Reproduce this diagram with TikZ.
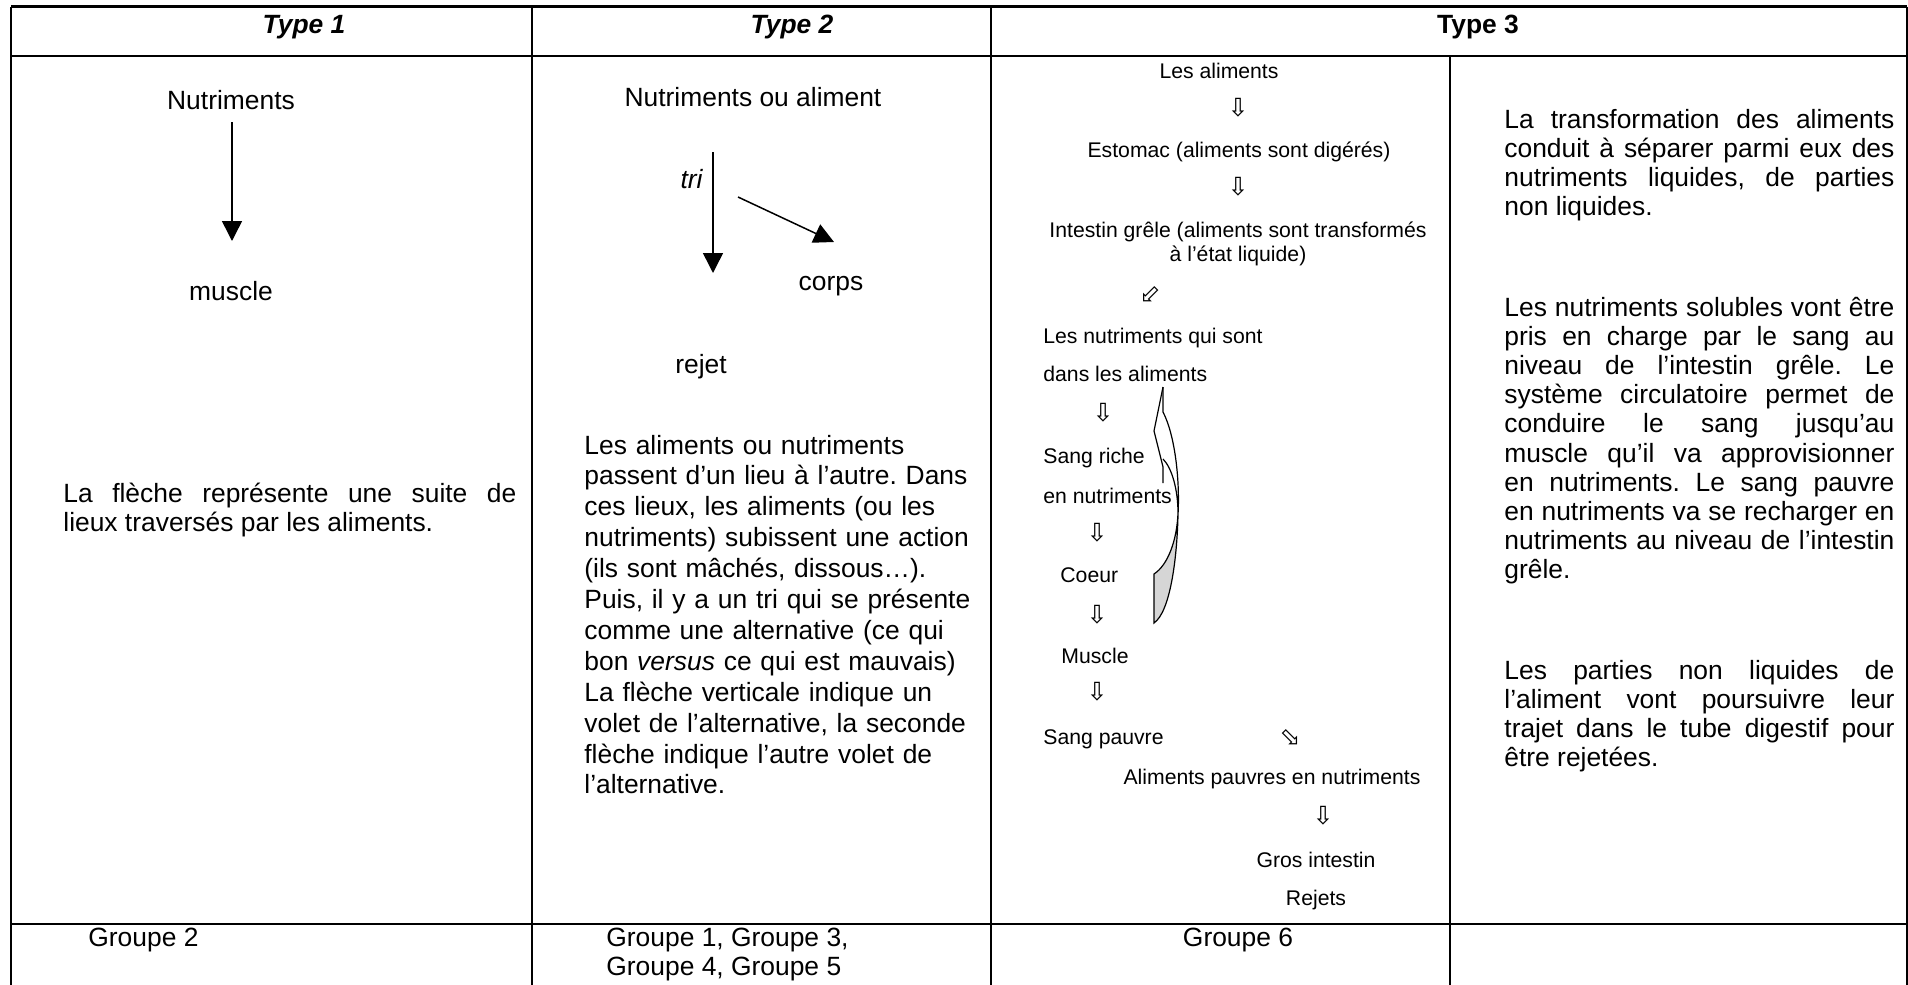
\documentclass[tikz,border=0pt]{standalone}
\usepackage{fontspec}
\setmainfont{Liberation Sans}
\newfontfamily\symfont{DejaVu Sans}
\usetikzlibrary{arrows.meta}
\frenchspacing

\newcommand{\bigtxt}{\fontsize{13.2}{14.6}\selectfont}
\newcommand{\smalltxt}{\fontsize{10.6}{12}\selectfont}

\begin{document}
\begin{tikzpicture}[x=0.5pt, y=-0.5pt,
    every node/.style={inner sep=0pt},
    body/.style={font=\bigtxt},
    small/.style={font=\smalltxt},
    head/.style={font=\bigtxt\bfseries\itshape},
    para/.style={font=\bigtxt, text width=#1, align=justify, anchor=base west},
    wa/.style={font=\symfont\fontsize{12.5}{12.5}\selectfont},
    bigarrow/.style={line width=0.75pt, -{Triangle[width=10pt,length=10pt]}},
    frame/.style={line width=1.2pt},
    thin/.style={line width=0.6pt}]

  \useasboundingbox (0,0) rectangle (1908,985);

  % table
  \draw[frame] (11,6.5) -- (1907,6.5);
  \draw[frame] (11,56) -- (1907,56);
  \draw[frame] (11,924) -- (1907,924);
  \draw[frame] (11,6.5) -- (11,985);
  \draw[frame] (1907,6.5) -- (1907,985);
  \draw[frame] (532,6.5) -- (532,985);
  \draw[frame] (991,6.5) -- (991,985);
  \draw[thin] (1450,56) -- (1450,985);

  \node[head] (type1) at (304,27) {Type 1};
  \node[head] (type2) at (792,27) {Type 2};
  \node[head, font=\bigtxt\bfseries] (type3) at (1478,27) {Type 3};

  % type 1
  \node[body] (nutr1) at (231,100) {Nutriments};
  \node[body] (musc1) at (231,291) {muscle};
  \coordinate (a1) at (232,122);
  \coordinate (b1) at (232,241);
  \draw[bigarrow] (a1) -- (b1);
  \node[para=226.5pt] (txt1) at (63,502)
    {La flèche représente une suite de\linebreak lieux traversés par les aliments.};

  % type 2
  \node[body] (nutr2) at (753,97) {Nutriments ou aliment};
  \node[body, font=\bigtxt\itshape, anchor=mid east] (tri) at (703,183) {tri};
  \coordinate (a2) at (713,152);
  \coordinate (b2) at (713,273);
  \coordinate (c2) at (738,197);
  \coordinate (d2) at (834,242);
  \draw[bigarrow] (a2) -- (b2);
  \draw[bigarrow] (c2) -- (d2);
  \node[body] (corps) at (831,286) {corps};
  \node[body] (rejet) at (701,367) {rejet};
  \node[font=\fontsize{13.2}{15.45}\selectfont, text width=210pt, align=left, anchor=base west] (txt2) at (584,454)
    {Les aliments ou nutriments\\
     passent d’un lieu à l’autre. Dans\\
     ces lieux, les aliments (ou les\\
     nutriments) subissent une action\\
     (ils sont mâchés, dissous…).\\
     Puis, il y a un tri qui se présente\\
     comme une alternative (ce qui\\
     bon \textit{versus} ce qui est mauvais)\\
     La flèche verticale indique un\\
     volet de l’alternative, la seconde\\
     flèche indique l’autre volet de\\
     l’alternative.};

  % type 3, schema
  \node[small] (alim) at (1219,71) {Les aliments};
  \node[wa] (f1) at (1238,108) {⇩};
  \node[small] (estom) at (1239,152) {Estomac (aliments sont digérés)};
  \node[wa] (f2) at (1238,187) {⇩};
  \node[small, align=center] (intest) at (1238,244)
    {Intestin grêle (aliments sont transformés\\à l’état liquide)};
  \node[wa] (f3) at (1150,295) {⬃};
  \node[small, anchor=mid west] (nutq) at (1043,338) {Les nutriments qui sont};
  \node[small, anchor=mid west] (dans) at (1043,376) {dans les aliments};
  \node[wa] (f4) at (1103,413) {⇩};
  \node[small, anchor=mid west] (riche) at (1043,458) {Sang riche};
  \node[small, anchor=mid west] (ennut) at (1043,498) {en nutriments};
  \node[wa] (f5) at (1097,533) {⇩};
  \node[small, anchor=mid west] (coeur) at (1060,577) {Coeur};
  \node[wa] (f6) at (1097,615) {⇩};
  \node[small, anchor=mid west] (musc3) at (1061,658) {Muscle};
  \node[wa] (f7) at (1097,692) {⇩};
  \node[small, anchor=mid west] (pauvre) at (1043,739) {Sang pauvre};
  \node[wa] (f8) at (1290,737) {⬂};
  \node[small] (alimp) at (1272,779) {Aliments pauvres en nutriments};
  \node[wa] (f9) at (1323,816) {⇩};
  \node[small] (gros) at (1316,860) {Gros intestin};
  \node[small] (rejets) at (1316,900) {Rejets};

  % curved arrow
  \fill[black!16] (1178,515) .. controls (1176,540) and (1168,565) .. (1154,574)
    -- (1154,623) .. controls (1170,610) and (1177,560) .. (1178,515);
  \draw[line width=0.6pt] (1163,387) -- (1163,412)
    .. controls (1175,435) and (1180,480) .. (1178,515)
    .. controls (1177,560) and (1170,612) .. (1154,623) -- (1154,574)
    .. controls (1168,565) and (1177,540) .. (1178,513)
    .. controls (1178,490) and (1172,468) .. (1163,459);
  \draw[line width=0.6pt] (1163,387) -- (1154,431) -- (1163,467) -- (1163,483);

  % type 3, text
  \node[para=195pt] (txt3a) at (1504,128)
    {La transformation des aliments\linebreak conduit à séparer parmi eux des\linebreak
     nutriments liquides, de parties\linebreak non liquides.};
  \node[para=195pt] (txt3b) at (1504,316)
    {Les nutriments solubles vont être\linebreak pris en charge par le sang au\linebreak
     niveau de l’intestin grêle. Le\linebreak système circulatoire permet de\linebreak
     conduire le sang jusqu’au\linebreak muscle qu’il va approvisionner\linebreak
     en nutriments. Le sang pauvre\linebreak en nutriments va se recharger en\linebreak
     nutriments au niveau de l’intestin\linebreak grêle.};
  \node[para=195pt] (txt3c) at (1504,679)
    {Les parties non liquides de\linebreak l’aliment vont poursuivre leur\linebreak
     trajet dans le tube digestif pour\linebreak être rejetées.};

  % groups
  \node[body, anchor=mid west] (g2) at (88,941) {Groupe 2};
  \node[body, anchor=mid west] (g13) at (606,941) {Groupe 1, Groupe 3,};
  \node[body, anchor=mid west] (g45) at (606,970) {Groupe 4, Groupe 5};
  \node[body] (g6) at (1238,940) {Groupe 6};

\end{tikzpicture}
\end{document}
